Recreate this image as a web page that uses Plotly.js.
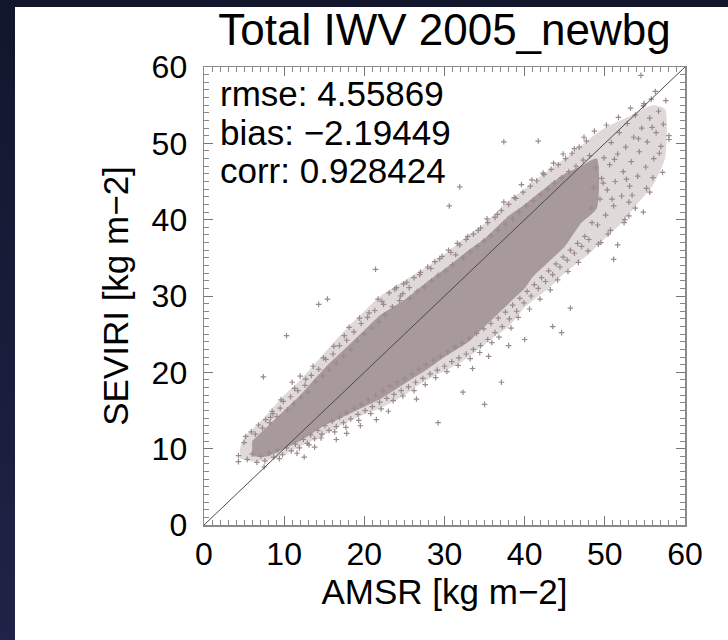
<!DOCTYPE html>
<html>
<head>
<meta charset="utf-8">
<script src="https://cdn.plot.ly/plotly-3.0.1.min.js"></script>
<style>
html,body{margin:0;padding:0;width:728px;height:640px;overflow:hidden;background:linear-gradient(#12162c,#1f2347);}
#panel{position:absolute;left:15px;top:7px;width:713px;height:633px;background:#fff;}
#chart{position:absolute;left:0;top:0;width:728px;height:640px;}
</style>
</head>
<body>
<div id="panel"></div>
<div id="chart"></div>
<script>
// Outer (speckled) envelope of the AMSR/SEVIRI cloud
const envAmsr = [4.5,5,7,10,12,15,18,20,22,25,28,30,33,35,38,40,43,45,48,50,53,56,57.5,
                 57.5,56,54,52,50,48,45,43,40,38,36,34,32,30,27,25,22,20,17,15,12,10,8,6,4.5];
const envSeviri = [10,11.5,13.5,17,19,22.5,26,28,30,32,34,35.5,38,39.5,42.5,44,46.5,48,50.5,52,53.5,55,54.5,
                   48,44.5,42,39.5,37.5,35.5,33,31,28.5,26,24.5,22.8,21.3,20.2,18.5,17,15.3,14.5,13,11.8,10.3,9.2,8.5,8.3,8.7];
// Solid (densest) core envelope
const coreAmsr = [6,8,10,12,15,18,20,22,25,28,30,33,35,38,40,43,45,47,49,
                  49,47,45,43,41,40,38,36,35,33,30,28,25,22,20,17,15,12,10,8,6];
const coreSeviri = [11,13,15,17,20.5,23.5,25.5,27.5,29.5,32,33.5,36,37.5,40.5,42,44.5,46,47,48,
                    41.5,39.5,36.5,34.5,32.5,31,29,27,26,24,22,20.5,18.5,16.5,15.5,14,13,11,10,9,9];
// Fringe points around the core
const fringeAmsr = [5.2,5.9,6.4,6.8,7.3,7.7,8.2,8.6,9.1,9.5,9.9,10.4,
 10.8,11.2,11.7,12.1,12.6,13.0,13.4,13.9,14.3,14.8,15.2,15.6,
 16.1,16.5,16.9,17.4,17.8,18.3,18.7,19.1,19.6,20.0,20.4,20.9,
 21.3,21.8,22.2,22.6,23.1,23.5,24.0,24.4,24.8,25.3,25.7,26.2,
 26.6,27.0,27.5,27.9,28.4,28.8,29.2,29.7,30.1,30.5,31.0,31.4,
 31.9,32.3,32.7,33.2,33.6,34.1,34.5,34.9,35.4,35.8,36.3,36.7,
 37.1,37.6,38.0,38.5,38.9,39.3,39.8,40.2,40.7,41.1,41.5,42.0,
 42.4,42.9,43.3,43.7,44.2,44.6,45.1,45.5,45.9,46.4,46.8,47.3,47.7,48.1,
 5.4,6.0,6.6,7.1,7.6,8.1,8.7,9.2,9.8,10.3,
 10.9,11.4,11.9,12.4,12.9,13.3,13.8,14.2,14.7,15.1,15.6,
 16.0,16.5,16.9,17.4,17.8,18.3,18.7,19.2,19.6,20.1,
 20.5,21.0,21.4,21.9,22.3,22.8,23.2,23.7,24.1,24.6,25.0,
 25.5,25.9,26.4,26.8,27.3,27.7,28.2,28.6,29.1,29.5,30.0,
 30.4,30.9,31.3,31.8,32.2,32.7,33.1,33.6,34.0,34.5,34.9,
 35.4,35.8,36.3,36.7,37.2,37.6,38.1,38.5,39.0,39.4,39.9,
 40.3,40.8,41.2,41.7,42.1,42.6,43.0,43.5,43.9,44.4,44.8,45.3,45.7,46.2,46.6,47.1,47.5,48.0,
 48.3,48.6,48.9,49.1,49.4,49.6,49.9,50.1,50.3,50.6,50.8,51.1,51.3,51.6,51.8,52.1,52.3,52.6,52.8,
 53.1,53.3,53.6,53.8,54.1,54.3,54.6,54.8,55.1,55.3,55.6,55.8,56.1,56.4,56.7,57.0,57.3,57.6,58.0,
 55.2,53.0,50.7,49.5];
const fringeSeviri = [11.6,12.2,11.9,13.1,12.7,13.8,13.4,14.6,14.2,15.3,16.2,15.1,
 16.8,15.9,17.6,16.7,18.3,17.4,19.6,18.8,20.4,19.5,21.7,20.3,
 22.4,21.2,23.5,22.1,24.2,23.0,25.3,24.1,26.4,25.0,27.2,25.8,
 28.1,26.6,29.3,27.5,30.4,28.6,31.1,29.4,30.3,31.8,29.7,32.4,
 30.6,33.1,31.2,33.8,32.0,34.5,32.7,35.2,33.3,36.0,34.1,35.4,
 36.7,35.0,37.4,35.8,38.1,36.5,38.9,37.2,39.6,37.9,40.3,38.6,
 41.2,39.4,42.0,40.1,42.8,41.0,43.6,41.8,44.4,42.5,45.1,43.3,
 45.9,44.0,46.6,44.8,47.2,45.5,48.0,46.3,48.7,47.0,49.5,47.8,50.3,48.4,
 8.6,9.3,8.2,9.0,8.4,9.5,8.9,9.8,9.2,10.1,
 9.7,10.6,10.1,11.2,10.7,11.8,11.3,12.4,11.9,13.0,12.4,
 13.6,12.9,14.1,13.4,14.7,13.9,15.3,14.5,15.8,15.0,
 16.4,15.5,17.0,16.1,17.6,16.6,18.2,17.1,18.7,17.6,19.2,
 18.1,19.8,18.7,20.4,19.2,21.0,19.8,21.6,20.3,22.1,20.8,
 22.7,21.4,23.3,21.9,23.8,22.4,24.5,23.0,25.1,23.5,25.7,
 24.3,26.4,25.2,27.1,26.0,27.9,27.0,28.8,28.0,29.7,29.1,
 30.6,30.0,31.5,31.0,32.4,31.9,33.3,32.8,34.2,33.8,35.1,34.7,36.0,35.6,36.9,36.5,37.8,37.4,
 41.5,44.2,46.8,39.3,42.7,45.4,48.1,40.6,43.9,47.2,50.1,41.8,45.0,48.6,51.4,43.1,46.3,49.5,52.6,
 44.4,47.6,50.8,53.7,45.7,48.9,52.0,54.9,46.9,50.2,53.3,55.8,48.0,51.4,54.2,49.6,52.5,55.6,51.0,
 44.1,42.3,38.6,37.0];
// Loose halo points at the edges of the cloud
const haloAmsr = [8.3,9.6,11.3,12.7,13.6,14.9,16.2,17.5,18.1,19.4,20.6,21.7,22.4,23.8,24.9,25.6,26.9,28.3,29.4,30.8,
 31.6,32.9,34.2,35.3,36.6,37.4,38.7,39.6,40.9,42.3,43.6,44.8,46.2,47.4,48.7,50.2,51.7,53.2,54.9,56.3,
 9.4,11.6,13.1,14.6,16.3,17.7,19.3,20.8,22.1,23.6,24.8,26.2,27.6,28.9,30.3,31.7,33.2,34.4,35.9,36.8,
 38.3,39.2,40.6,41.9,43.2,44.1,45.4,46.7,47.9,49.2,50.4,52.4,53.8,55.6,57.2,
 49.8,51.2,52.7,54.2,55.9,56.8,53.4,50.9];
const haloSeviri = [14.1,16.4,17.9,19.1,20.8,21.9,23.4,24.8,25.9,27.1,27.8,29.6,28.9,30.9,31.6,31.1,32.8,33.6,34.9,35.7,
 36.9,37.8,38.6,40.1,40.7,42.3,42.9,44.6,45.2,46.1,47.4,48.6,49.3,50.8,51.6,52.4,53.4,54.6,55.2,56.8,
 8.7,9.4,10.5,11.4,12.2,12.8,13.7,14.6,15.2,16.3,16.9,17.6,18.4,19.3,20.1,20.9,21.8,22.6,23.9,24.6,
 25.8,27.2,28.3,29.6,30.8,32.1,33.2,34.4,35.9,36.8,38.1,39.6,41.5,43.6,46.2,
 44.8,47.9,45.3,50.6,52.1,48.7,43.2,42.7];
// Isolated outlying points
const outAmsr = [4.3,4.3,5,7.4,7.5,8.5,10.3,11,12,12.5,13.8,14.3,15.4,16.5,17.8,19.5,21.4,21.5,23,24.5,26.5,29.2,30.6,31.9,32.3,33.5,35,35.5,37.4,37.1,38,40,41.7,43.5,44.6,45.7,48.4,51.1,51.6,52.5,53,54.5,54.8,56,58];
const outSeviri = [9.1,8.3,10.8,19.4,7.6,14.9,24.8,18.7,19.5,8.9,10.2,28.9,29.6,11.2,12,13,33.5,13.8,14.9,30,16.5,13.4,41.8,44.3,17.4,20.5,15.8,22.1,50.2,18.7,23.5,24.3,50.3,26,25.2,28.4,39.6,34.8,36.7,40,40.5,58.9,41,45.5,50.5];
const diagonal = [0,60];
const stats = ['rmse: 4.55869','bias: \u22122.19449','corr: 0.928424'];

const ptColor = '#9a8a8a';
const mk = {symbol:'cross-thin', size:4, color:ptColor, line:{width:1.2, color:ptColor}};
const traces = [
  {x: envAmsr, y: envSeviri, type:'scatter', mode:'lines', fill:'toself',
   fillcolor:'rgba(166,150,150,0.36)', line:{width:0, shape:'spline', smoothing:0.6}, hoverinfo:'skip', showlegend:false},
  {x: coreAmsr, y: coreSeviri, type:'scatter', mode:'lines', fill:'toself',
   fillcolor:'#a89a9a', line:{width:0, shape:'spline', smoothing:0.6}, hoverinfo:'skip', showlegend:false},
  {x: fringeAmsr, y: fringeSeviri, type:'scatter', mode:'markers', marker:mk, showlegend:false},
  {x: haloAmsr, y: haloSeviri, type:'scatter', mode:'markers', marker:mk, showlegend:false},
  {x: outAmsr, y: outSeviri, type:'scatter', mode:'markers', marker:mk, showlegend:false},
  {x: diagonal, y: diagonal, type:'scatter', mode:'lines',
   line:{color:'#4a4a4a', width:1}, showlegend:false}
];
const fontFam = '"Liberation Sans", Arial, Helvetica, sans-serif';
const axisCommon = {
  range:[0,60], tickmode:'linear', tick0:0, dtick:10,
  ticks:'inside', ticklen:9, tickwidth:1, tickcolor:'#777777',
  minor:{dtick:1, tick0:0, ticks:'inside', ticklen:5, tickwidth:1, tickcolor:'#888888'},
  showline:true, linecolor:'#8a8a8a', linewidth:1.5, mirror:'ticks',
  showgrid:false, zeroline:false,
  tickfont:{family:fontFam, size:32, color:'#000'}
};
const layout = {
  width:728, height:640,
  margin:{l:204, r:43, t:67, b:115},
  paper_bgcolor:'rgba(0,0,0,0)', plot_bgcolor:'#ffffff',
  font:{family:fontFam, color:'#000'},
  title:{text:'Total IWV 2005_newbg', font:{family:fontFam, size:44, color:'#000'},
         xref:'paper', x:0.5, xanchor:'center', yref:'container', y:1-30/640, yanchor:'middle'},
  xaxis: Object.assign({}, axisCommon, {
    title:{text:'AMSR [kg m\u22122]', font:{family:fontFam, size:35, color:'#000'}, standoff:2}}),
  yaxis: Object.assign({}, axisCommon, {
    ticksuffix:'\u00a0',
    title:{text:'SEVIRI [kg m\u22122]', font:{family:fontFam, size:35, color:'#000'}, standoff:12}}),
  annotations: stats.map((s,i)=>({text:s, xref:'paper', yref:'paper', x:0.03, xanchor:'left',
    y:1-(27+38*i)/458, yanchor:'middle', showarrow:false, font:{family:fontFam, size:35, color:'#000'}}))
};
Plotly.newPlot('chart', traces, layout, {displayModeBar:false, staticPlot:true});
</script>
</body>
</html>
